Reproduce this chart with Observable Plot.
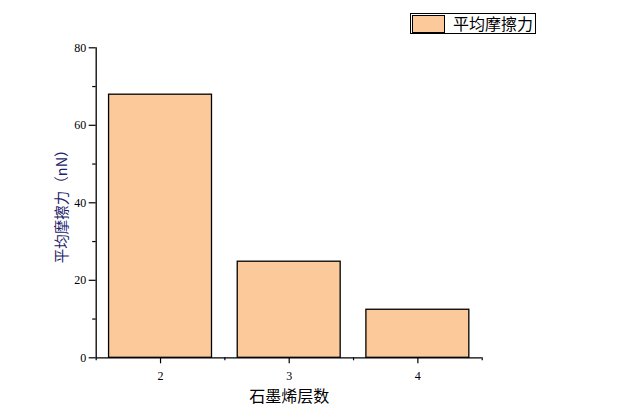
<!DOCTYPE html>
<html>
<head>
<meta charset="utf-8">
<script src="https://cdn.jsdelivr.net/npm/d3@7"></script>
<script src="https://cdn.jsdelivr.net/npm/@observablehq/plot@0.6"></script>
<style>
  html, body { margin: 0; padding: 0; background: #fff; }
  #wrap { position: relative; width: 638px; height: 419px; }
  #legend {
    position: absolute; left: 410px; top: 13px; width: 124px; height: 19px;
    border: 1px solid #000; background: #fff; box-sizing: content-box;
    font-family: "Noto Sans CJK SC", sans-serif; font-size: 16px; color: #000;
  }
  #legend .sw {
    position: absolute; left: 1px; top: 1px; width: 31px; height: 16px;
    border: 1px solid #000; background: #FCCA9A;
  }
  #legend .lb { position: absolute; left: 42px; top: -3px; line-height: 24px; white-space: nowrap; }
</style>
</head>
<body>
<div id="wrap"></div>
<script>
const layers = [2, 3, 4];
const friction = [67.9, 24.8, 12.4];
const seriesName = "平均摩擦力";
const xTitle = "石墨烯层数";
const yTitle = "平均摩擦力（nN）";
const yMajor = [0, 20, 40, 60, 80];
const yMinor = [10, 30, 50, 70];
const xMajor = [2, 3, 4];
const xMinor = [1.5, 2.5, 3.5, 4.5];

const data = layers.map((l, i) => ({layer: l, value: friction[i]}));
const fill = "#FCCA9A";
const tickFont = "Liberation Serif, DejaVu Serif, serif";

const chart = Plot.plot({
  width: 638,
  height: 419,
  marginLeft: 95.7,
  marginRight: 156.3,
  marginTop: 47.3,
  marginBottom: 61.7,
  x: {domain: [1.5, 4.5]},
  y: {domain: [0, 80]},
  style: {background: "#fff", overflow: "visible"},
  marks: [
    Plot.rectY(data, {
      x1: d => d.layer - 0.4, x2: d => d.layer + 0.4,
      y1: 0, y2: "value",
      fill: fill, stroke: "#000", strokeWidth: 1.3
    }),
    Plot.ruleX([1.5], {y1: 0, y2: 80, stroke: "#000", strokeWidth: 1.3}),
    Plot.ruleY([0], {x1: 1.5, x2: 4.5, stroke: "#000", strokeWidth: 1.3}),
    Plot.axisY({ticks: yMajor, tickSize: 7, tickPadding: 3, stroke: "#000", strokeWidth: 1.2,
      fontSize: 12, fontFamily: tickFont, label: null, tickFormat: d => String(d)}),
    Plot.axisY({ticks: yMinor, tickSize: 3.5, text: null, stroke: "#000", strokeWidth: 1.2, label: null}),
    Plot.axisX({ticks: xMajor, tickSize: 6, tickPadding: 8, stroke: "#000", strokeWidth: 1.2,
      fontSize: 12, fontFamily: tickFont, label: null, tickFormat: d => String(d)}),
    Plot.axisX({ticks: xMinor, tickSize: 3, text: null, stroke: "#000", strokeWidth: 1.2, label: null}),
    Plot.text([xTitle], {frameAnchor: "bottom", dy: 39, textAnchor: "middle", lineAnchor: "middle",
      fontSize: 16, fontFamily: "Noto Sans CJK SC", fill: "#000"}),
    Plot.text([yTitle], {frameAnchor: "left", dx: -34, rotate: -90, textAnchor: "middle", lineAnchor: "middle",
      fontSize: 14.5, fontFamily: "Noto Sans CJK SC", fill: "#22226a"})
  ]
});

const wrap = document.getElementById("wrap");
wrap.appendChild(chart);
const legend = document.createElement("div");
legend.id = "legend";
legend.innerHTML = `<div class="sw"></div><div class="lb">${seriesName}</div>`;
wrap.appendChild(legend);
</script>
</body>
</html>
